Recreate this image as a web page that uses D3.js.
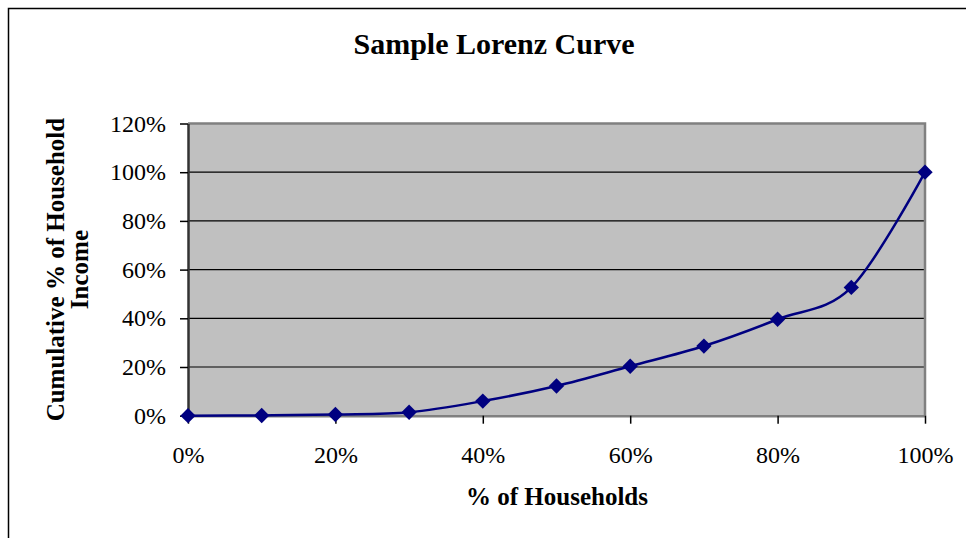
<!DOCTYPE html>
<html>
<head>
<meta charset="utf-8">
<script src="https://cdn.jsdelivr.net/npm/d3@7"></script>
<style>
  html, body { margin: 0; padding: 0; background: #fff; }
  svg { display: block; }
  text { font-family: "Liberation Serif", "Times New Roman", serif; fill: #000; }
</style>
</head>
<body>
<svg id="chart" width="966" height="538"></svg>
<script>
// Share of households (cumulative, %)
const households = [0, 10, 20, 30, 40, 50, 60, 70, 80, 90, 100];
// Cumulative share of household income (%)
const incomeShare = [0, 0.1, 0.5, 1.4, 6.0, 12.2, 20.3, 28.6, 39.6, 52.7, 100];
// Axis tick values (%)
const xTicks = [0, 20, 40, 60, 80, 100];
const yTicks = [0, 20, 40, 60, 80, 100, 120];

const chartTitle = "Sample Lorenz Curve";
const xTitle = "% of Households";
const yTitleLines = ["Cumulative % of Household", "Income"];

const svg = d3.select("#chart");
const plot = { left: 188, right: 925, top: 123.5, bottom: 415.7 };

const x = d3.scaleLinear().domain([0, 100]).range([plot.left, plot.right]);
const y = d3.scaleLinear().domain([0, 120]).range([plot.bottom, plot.top]);

// Outer chart frame
svg.append("rect")
  .attr("x", 8.5).attr("y", 8.5)
  .attr("width", 980).attr("height", 560)
  .attr("fill", "#fff").attr("stroke", "#000").attr("stroke-width", 1.5);

// Title
svg.append("text")
  .attr("x", 494).attr("y", 54)
  .attr("text-anchor", "middle")
  .attr("font-size", 30).attr("font-weight", "bold")
  .text(chartTitle);

// Plot area background
svg.append("rect")
  .attr("x", plot.left).attr("y", plot.top)
  .attr("width", plot.right - plot.left).attr("height", plot.bottom - plot.top)
  .attr("fill", "#c0c0c0");

// Horizontal gridlines
svg.append("g")
  .selectAll("line")
  .data(yTicks.filter(d => d > 0 && d < 120))
  .join("line")
  .attr("x1", plot.left).attr("x2", plot.right)
  .attr("y1", d => y(d)).attr("y2", d => y(d))
  .attr("stroke", "#000").attr("stroke-width", 1.2);

// Plot area border (top and right)
svg.append("path")
  .attr("d", `M${plot.left},${plot.top}H${plot.right}V${plot.bottom}`)
  .attr("fill", "none").attr("stroke", "#808080").attr("stroke-width", 2.5);

// Y axis
const yAxis = svg.append("g")
  .attr("transform", `translate(${plot.left},0)`)
  .call(d3.axisLeft(y).tickValues(yTicks).tickFormat(d => d + "%").tickSize(8).tickSizeOuter(0).tickPadding(14));
yAxis.select(".domain").attr("stroke", "#333").attr("stroke-width", 2.5);
yAxis.selectAll(".tick line").attr("stroke", "#000").attr("stroke-width", 1.5);
yAxis.selectAll(".tick text")
  .attr("font-family", "Liberation Serif, Times New Roman, serif")
  .attr("font-size", 24).attr("fill", "#000");

// X axis
const xAxis = svg.append("g")
  .attr("transform", `translate(0,${plot.bottom})`)
  .call(d3.axisBottom(x).tickValues(xTicks).tickFormat(d => d + "%").tickSize(8).tickSizeOuter(0).tickPadding(22));
xAxis.select(".domain").attr("stroke", "#808080").attr("stroke-width", 2.5);
xAxis.selectAll(".tick line").attr("stroke", "#000").attr("stroke-width", 1.5);
xAxis.selectAll(".tick text")
  .attr("font-family", "Liberation Serif, Times New Roman, serif")
  .attr("font-size", 24).attr("fill", "#000");

// Axis titles
svg.append("text")
  .attr("x", 557).attr("y", 505)
  .attr("text-anchor", "middle")
  .attr("font-size", 25).attr("font-weight", "bold")
  .text(xTitle);

const yTitle = svg.append("text")
  .attr("transform", `translate(64,${(plot.top + plot.bottom) / 2}) rotate(-90)`)
  .attr("text-anchor", "middle")
  .attr("font-size", 25).attr("font-weight", "bold");
yTitle.selectAll("tspan")
  .data(yTitleLines)
  .join("tspan")
  .attr("x", 0)
  .attr("dy", (d, i) => i === 0 ? 0 : 24)
  .text(d => d);

// Smoothed Lorenz curve
const points = households.map((h, i) => [h, incomeShare[i]]);
const line = d3.line()
  .x(d => x(d[0])).y(d => y(d[1]))
  .curve(d3.curveCardinal.tension(0));

svg.append("path")
  .datum(points)
  .attr("d", line)
  .attr("fill", "none")
  .attr("stroke", "#000080")
  .attr("stroke-width", 2.5);

// Diamond markers
svg.append("g")
  .selectAll("path")
  .data(points)
  .join("path")
  .attr("transform", d => `translate(${x(d[0])},${y(d[1])})`)
  .attr("d", d3.symbol(d3.symbolDiamond2, 150))
  .attr("fill", "#000080");
</script>
</body>
</html>
